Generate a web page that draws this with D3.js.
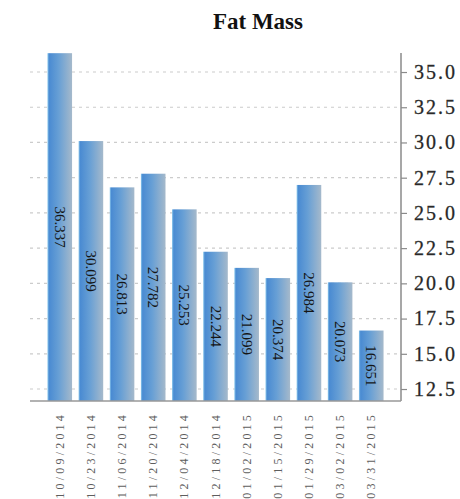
<!DOCTYPE html>
<html>
<head>
<meta charset="utf-8">
<script src="https://cdn.jsdelivr.net/npm/d3@7"></script>
<style>
  html, body { margin: 0; padding: 0; background: #fff; }
  svg { display: block; }
</style>
</head>
<body>
<svg id="chart" width="460" height="499"></svg>
<script>
// Fat mass measurements per visit
const dates = ["10/09/2014", "10/23/2014", "11/06/2014", "11/20/2014", "12/04/2014",
               "12/18/2014", "01/02/2015", "01/15/2015", "01/29/2015", "03/02/2015", "03/31/2015"];
const fatMass = [36.337, 30.099, 26.813, 27.782, 25.253, 22.244, 21.099, 20.374, 26.984, 20.073, 16.651];
const yTicks = [12.5, 15.0, 17.5, 20.0, 22.5, 25.0, 27.5, 30.0, 32.5, 35.0];
const yDomain = [11.65, 36.35];

const svg = d3.select("#chart");
const serif = "'Liberation Serif', 'Times New Roman', serif";

const plot = { left: 30, right: 401, top: 53, bottom: 401 };

const x = d3.scaleBand()
  .domain(dates)
  .range([plot.left, plot.right])
  .paddingInner(0.21)
  .paddingOuter(0.56);

const y = d3.scaleLinear()
  .domain(yDomain)
  .range([plot.bottom, plot.top]);

// bar fill: blue on the left fading to a grey-blue on the right
const defs = svg.append("defs");
const grad = defs.append("linearGradient")
  .attr("id", "barFill")
  .attr("x1", "0%").attr("x2", "100%").attr("y1", "0%").attr("y2", "0%");
[["0%", "#8cc8ec"], ["7%", "#4a8bd2"], ["45%", "#679fd5"], ["100%", "#a5b9cb"]]
  .forEach(([o, c]) => grad.append("stop").attr("offset", o).attr("stop-color", c));

// title
svg.append("text")
  .attr("x", 258).attr("y", 29)
  .attr("text-anchor", "middle")
  .style("font-family", serif)
  .style("font-weight", "bold")
  .style("font-size", "23px")
  .style("fill", "#111")
  .text("Fat Mass");

// dotted grid lines
svg.append("g").selectAll("line")
  .data(yTicks)
  .join("line")
  .attr("x1", plot.left).attr("x2", plot.right)
  .attr("y1", d => y(d)).attr("y2", d => y(d))
  .attr("stroke", "#cccccc")
  .attr("stroke-width", 1.2)
  .attr("stroke-dasharray", "3,4");

// bars
svg.append("g").selectAll("rect")
  .data(fatMass)
  .join("rect")
  .attr("x", (d, i) => x(dates[i]))
  .attr("width", x.bandwidth())
  .attr("y", d => y(d))
  .attr("height", d => plot.bottom - y(d))
  .attr("fill", "url(#barFill)");

// value labels, rotated, centred in each bar
svg.append("g").selectAll("text")
  .data(fatMass)
  .join("text")
  .attr("transform", (d, i) =>
    `translate(${x(dates[i]) + x.bandwidth() / 2},${(y(d) + plot.bottom) / 2}) rotate(90)`)
  .attr("text-anchor", "middle")
  .attr("dominant-baseline", "central")
  .style("font-family", serif)
  .style("font-size", "15px")
  .style("fill", "#151515")
  .text(d => d.toFixed(3));

// right-hand value axis
const yAxis = svg.append("g")
  .attr("transform", `translate(${plot.right},0)`)
  .call(d3.axisRight(y).tickValues(yTicks).tickFormat(d3.format(".1f")).tickSize(6).tickPadding(7));
yAxis.select(".domain").remove();
yAxis.append("line")
  .attr("x1", 0).attr("x2", 0)
  .attr("y1", plot.top).attr("y2", plot.bottom)
  .attr("stroke", "#8a8a8a").attr("stroke-width", 1.5);
yAxis.selectAll(".tick line").attr("stroke", "#8a8a8a").attr("stroke-width", 1.2);
yAxis.selectAll(".tick text")
  .style("font-family", serif)
  .style("font-size", "20px")
  .style("letter-spacing", "2px")
  .style("stroke", "#333")
  .style("stroke-width", "0.3px")
  .style("fill", "#262626");

// category baseline and rotated date labels
svg.append("line")
  .attr("x1", plot.left).attr("x2", plot.right)
  .attr("y1", plot.bottom).attr("y2", plot.bottom)
  .attr("stroke", "#999").attr("stroke-width", 1.5);

svg.append("g").selectAll("text")
  .data(dates)
  .join("text")
  .attr("transform", d => `translate(${x(d) + x.bandwidth() / 2},412) rotate(-90)`)
  .attr("text-anchor", "end")
  .attr("dominant-baseline", "central")
  .style("font-family", serif)
  .style("font-size", "12px")
  .style("letter-spacing", "3.2px")
  .style("fill", "#5e5e5e")
  .text(d => d);
</script>
</body>
</html>
